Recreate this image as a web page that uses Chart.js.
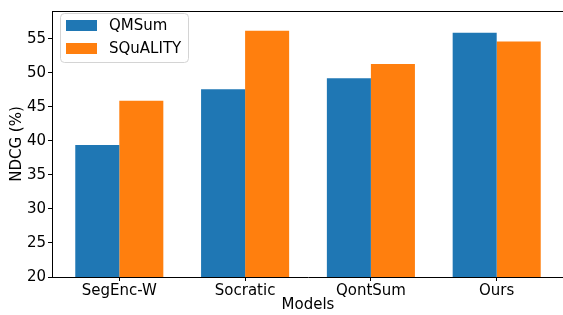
<!DOCTYPE html>
<html>
<head>
<meta charset="utf-8">
<script src="https://cdn.jsdelivr.net/npm/chart.js@4"></script>
<style>
  html, body { margin: 0; padding: 0; background: #fff; overflow: hidden; }
  #wrap { width: 570px; height: 315px; }
</style>
</head>
<body>
<div id="wrap"><canvas id="chart" width="570" height="315"></canvas></div>
<script>
// values
const models = ["SegEnc-W", "Socratic", "QontSum", "Ours"];
const qmsum = [39.4, 47.6, 49.2, 55.9];
const squality = [45.9, 56.2, 51.3, 54.6];
const yTicks = [20, 25, 30, 35, 40, 45, 50, 55];

const FONT = "'DejaVu Sans', sans-serif";
const FSIZE = 15;

// top spine + legend box in the upper left, like matplotlib
const framePlugin = {
    id: "frame",
    afterDraw(chart) {
        const ctx = chart.ctx;
        const area = chart.chartArea;
        ctx.save();
        ctx.strokeStyle = "#000";
        ctx.lineWidth = 1;
        ctx.beginPath();
        ctx.moveTo(area.left, area.top + 0.5);
        ctx.lineTo(area.right, area.top + 0.5);
        ctx.stroke();

        // legend
        const x = 60.5, y = 13.5, w = 128, h = 49, r = 4;
        ctx.beginPath();
        ctx.moveTo(x + r, y);
        ctx.arcTo(x + w, y, x + w, y + h, r);
        ctx.arcTo(x + w, y + h, x, y + h, r);
        ctx.arcTo(x, y + h, x, y, r);
        ctx.arcTo(x, y, x + w, y, r);
        ctx.closePath();
        ctx.fillStyle = "rgba(255,255,255,0.8)";
        ctx.fill();
        ctx.strokeStyle = "#d4d4d4";
        ctx.stroke();

        ctx.font = FSIZE + "px " + FONT;
        ctx.textBaseline = "middle";
        chart.data.datasets.forEach((ds, i) => {
            const ry = 20 + i * 23;
            ctx.fillStyle = ds.backgroundColor;
            ctx.fillRect(66, ry, 31, 11);
            ctx.fillStyle = "#000";
            ctx.fillText(ds.label, 109, ry + 6);
        });
        ctx.restore();
    }
};

const ctx = document.getElementById("chart").getContext("2d");
new Chart(ctx, {
    type: "bar",
    data: {
        datasets: [{
            label: "QMSum",
            data: qmsum.map((v, i) => ({x: i, y: v})),
            backgroundColor: "#1f77b4",
            categoryPercentage: 0.7,
            barPercentage: 1.0
        }, {
            label: "SQuALITY",
            data: squality.map((v, i) => ({x: i, y: v})),
            backgroundColor: "#ff7f0e",
            categoryPercentage: 0.7,
            barPercentage: 1.0
        }]
    },
    options: {
        responsive: false,
        animation: false,
        layout: { padding: { top: 5, right: 6, left: 0, bottom: 0 } },
        plugins: {
            legend: { display: false },
            tooltip: { enabled: false }
        },
        scales: {
            x: {
                type: "linear",
                min: -0.535,
                max: 3.535,
                offset: false,
                afterBuildTicks: (scale) => {
                    scale.ticks = models.map((m, i) => ({value: i}));
                },
                afterFit: (scale) => { scale.height = 38; },
                grid: { offset: false, drawOnChartArea: false, drawTicks: true, tickLength: 4, color: "#000" },
                border: { display: true, color: "#000", width: 1 },
                ticks: {
                    autoSkip: false,
                    maxRotation: 0,
                    padding: 1,
                    color: "#000",
                    font: { family: FONT, size: FSIZE },
                    callback: (v) => models[v]
                },
                title: {
                    display: true,
                    text: "Models",
                    color: "#000",
                    font: { family: FONT, size: FSIZE },
                    padding: { top: 0, bottom: 1 }
                }
            },
            y: {
                min: 20,
                max: 59.1,
                afterBuildTicks: (scale) => {
                    scale.ticks = yTicks.map(v => ({value: v}));
                },
                afterFit: (scale) => { scale.width = 52; },
                grid: { drawOnChartArea: false, drawTicks: true, tickLength: 4, color: "#000" },
                border: { display: true, color: "#000", width: 1 },
                ticks: {
                    padding: 2,
                    color: "#000",
                    font: { family: FONT, size: FSIZE }
                },
                title: {
                    display: true,
                    text: "NDCG (%)",
                    color: "#000",
                    font: { family: FONT, size: FSIZE },
                    padding: { top: 8, bottom: 0 }
                }
            }
        }
    },
    plugins: [framePlugin]
});
</script>
</body>
</html>
